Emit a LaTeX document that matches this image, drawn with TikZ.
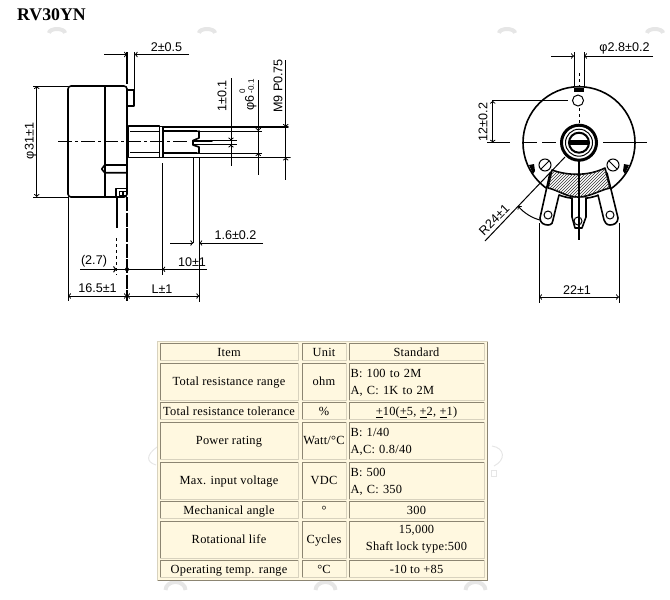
\documentclass[tikz,border=0pt]{standalone}
\usepackage{fontspec}
\setmainfont{Liberation Serif}
\newfontfamily\cadfont{Liberation Sans}
\newfontfamily\cellfont[LetterSpace=2]{Liberation Serif}
\usetikzlibrary{positioning,patterns}
\definecolor{cellcream}{HTML}{FFF8E0}
\definecolor{cellrule}{HTML}{8C8572}
\definecolor{celledge}{HTML}{D8D2BE}
\definecolor{ghost}{HTML}{E6E6E6}
\newcommand{\cellstrut}{\rule[-4pt]{0pt}{16.8pt}}
\tikzset{
	outline/.style={line width=1.6pt,line cap=round,line join=round},
	thinline/.style={line width=1pt},
	dimline/.style={line width=1pt,->},
	dimtext/.style={font=\cadfont\fontsize{12.6}{12.6}\selectfont,inner sep=0pt},
	cellbox/.style={draw=celledge,line width=1pt,fill=cellcream,inner sep=0pt,outer sep=0pt,
		font=\cellfont\fontsize{12.4}{17}\selectfont,align=center,
		execute at begin node=\cellstrut,execute at end node=\cellstrut},
	wordbox/.style={cellbox,align=left,text width=132pt,minimum width=135pt,inner xsep=1.5pt},
	ghostring/.style={ghost,line width=4pt},
}
\begin{document}
\begin{tikzpicture}[x=1pt,y=-1pt]
		\useasboundingbox (0,0) rectangle (670,600);
		\node[font=\bfseries\fontsize{17.8}{18}\selectfont,inner sep=0pt,anchor=west] (title) at (17,15) {RV30YN};
		% pale marks behind the drawing
		\foreach \px in {57,207,507,655}
			\draw[ghostring] (\px-8,33) arc (180:0:8 and -4);
		\foreach \px in {175.5,325.5,475.5}
			\draw[ghostring] (\px-10,590) arc (180:0:10 and -8);
		\draw[ghost,line width=1pt] (157,447) .. controls (146,455) and (146,462) .. (156,465);
		\draw[ghost,line width=1pt] (492,446) .. controls (505,448) and (506,460) .. (494,466);
		\draw[ghost,line width=1pt] (491,470) rectangle (496,476);
		% side view
		\draw[outline,rounded corners=3pt] (68,86) rectangle (127,197);
		\draw[outline] (104.7,86) -- (104.7,197);
		\draw[outline] (127,90) -- (134,90) -- (134,106) -- (127,106);
		\draw[outline] (127,165) -- (104.7,165) -- (101.7,169) -- (104.7,172.7) -- (127,172.7);
		\draw[outline] (128.5,126) -- (159.5,126) -- (159.5,157.5) -- (128.5,157.5) -- cycle;
		\draw[thinline] (130,131) -- (159,131) (130,152) -- (159,152);
		\draw[outline] (159.5,126.5) -- (163,126.5) -- (163,157.5) -- (159.5,157.5);
		\draw[outline] (163,127) -- (288,127);
		\draw[outline] (163,157.5) -- (290,157.5);
		\draw[outline] (163,131) -- (197,131) (163,153) -- (197,153);
		\draw[thinline] (197,131) -- (262,131) (197,153) -- (262,153);
		\draw[outline] (199,131) -- (199,138) -- (193,140.5) -- (193,145) -- (199,147) -- (199,153);
		\draw[outline] (193,141) -- (212,141);
		\draw[thinline] (193,144.5) -- (237,144.5) (212,140.5) -- (237,140.5);
		\draw[thinline,dash pattern=on 14pt off 3pt on 3pt off 3pt] (58,141.7) -- (190,141.7);
		\draw[outline] (115.7,197) -- (115.7,188.5) -- (127,188.5);
		\draw[line width=0.7pt] (119,191) rectangle (122,195) (123,191) rectangle (126,195);
		\draw[line width=2.2pt] (116.7,197) -- (116.7,228);
		\draw[thinline,dashed] (116.7,238) -- (116.7,275);
		% side view dimensions
		\draw[line width=1.4pt] (127,52) -- (127,84);
		\draw[thinline] (134.7,52) -- (134.7,90);
		\coordinate (keyl) at (127,54.5);
		\coordinate (keyr) at (134.7,54.5);
		\draw[dimline] (104,54.5) -- (keyl);
		\draw[dimline] (189,54.5) -- (keyr);
		\node[dimtext] (keytext) at (166.5,47) {2±0.5};
		\draw[thinline] (33,86) -- (68,86) (33,197) -- (68,197);
		\draw[dimline,<->] (36.7,86) -- (36.7,197);
		\node[dimtext,rotate=90] (bodytext) at (30.5,141) {φ31±1};
		\draw[thinline] (231,78) -- (231,166);
		\draw[dimline] (231,131) -- (231,140.5);
		\draw[dimline] (231,153) -- (231,144.5);
		\node[dimtext,rotate=90] (slottext) at (222,96) {1±0.1};
		\draw[thinline] (258.3,80) -- (258.3,175);
		\draw[dimline] (258.3,120) -- (258.3,131);
		\draw[dimline] (258.3,164) -- (258.3,153);
		\node[dimtext,rotate=90,align=left] (shafttext) at (248,95) {φ6\,{\fontsize{8}{8}\selectfont\shortstack[l]{0\\-0.1}}};
		\draw[thinline] (285.7,60) -- (285.7,180);
		\draw[dimline] (285.7,118) -- (285.7,127);
		\draw[dimline] (285.7,167) -- (285.7,157.5);
		\node[dimtext,rotate=90] (threadtext) at (278,86) {M9 P0.75};
		\draw[line width=1.6pt] (162.3,163) -- (162.3,275);
		\draw[thinline] (193.3,157) -- (193.3,243);
		\draw[thinline] (199.3,157) -- (199.3,301.7);
		\draw[dimline] (170,243) -- (193.3,243);
		\draw[dimline] (263,243) -- (199.3,243);
		\node[dimtext] (flattext) at (235.5,235) {1.6±0.2};
		\draw[thinline] (68,197) -- (68,301);
		\draw[line width=1.4pt,dash pattern=on 14pt off 1.5pt] (127,197) -- (127,301);
		\draw[line width=1.3pt] (80,269.3) -- (162.3,269.3);
		\draw[line width=1.3pt,->] (80,269.3) -- (116.7,269.3);
		\draw[dimline] (206.7,269.3) -- (162.3,269.3);
		\fill (127,269.3) circle (2pt);
		\node[dimtext] (lugtext) at (94,261.5) {(2.7)};
		\node[dimtext] (bushtext) at (192,262) {10±1};
		\draw[dimline,<->] (68,296) -- (127,296);
		\draw[dimline,<->] (127,296) -- (199.3,296);
		\node[dimtext] (depthtext) at (97.5,288.5) {16.5±1};
		\node[dimtext] (lengthtext) at (162,289) {L±1};
		% front view
		\draw[outline] (579,142.7) circle (56);
		\draw[thinline,fill=white] (578,100.5) circle (5.5);
		\fill (574,88) rectangle (584,92);
		\draw[line width=3pt] (579,142.7) circle (17.5);
		\draw[line width=1pt] (579,142.7) circle (13.5);
		\draw[line width=2pt] (579,142.7) circle (10);
		\fill (569,140) rectangle (589,144.5);
		\draw[thinline] (545,165) circle (6) (613,165) circle (6);
		\draw[thinline] (541,169) -- (549,161) (609,161) -- (617,169);
		\fill (529,165) -- (534,164) -- (535,171) -- (533,174) -- cycle;
		\fill (629,165) -- (624,164) -- (623,171) -- (625,174) -- cycle;
		\draw[outline,fill=white] (550,173) -- (540,218) .. controls (540,223) and (544,225) .. (548,225) .. controls (552,225) and (553,222) .. (553,220) -- (559,195);
		\draw[outline,fill=white] (607,173) -- (618,218) .. controls (618,223) and (614,225) .. (610,225) .. controls (606,225) and (605,222) .. (604,220) -- (598,195);
		\draw[outline,fill=white] (572,198) -- (572,217) -- (575,228) -- (582,228) -- (586,217) -- (586,198);
		\draw[thinline] (548,215) circle (4) (610,215) circle (4) (578,221) circle (4);
		\draw[outline,fill=white] (552,170) .. controls (568,176) and (589,176) .. (605,168) -- (610,188) .. controls (600,190) and (590,197) .. (578,197) .. controls (566,197) and (558,190) .. (548,188) -- cycle;
		\fill[pattern=north east lines,pattern color=black!80] (552,170) .. controls (568,176) and (589,176) .. (605,168) -- (610,188) .. controls (600,190) and (590,197) .. (578,197) .. controls (566,197) and (558,190) .. (548,188) -- cycle;
		% front view dimensions
		\draw[thinline,dashed] (579,73) -- (579,87);
		\draw[thinline,dashed] (579,108) -- (579,125);
		\draw[line width=1.4pt] (579,161) -- (579,240);
		\draw[thinline] (574,52) -- (574,87) (584,52) -- (584,87);
		\draw[dimline] (551,56) -- (574,56);
		\draw[dimline] (653,56) -- (584,56);
		\node[dimtext] (holetext) at (624.5,48) {φ2.8±0.2};
		\draw[thinline] (492,100.7) -- (568,100.7);
		\draw[thinline] (487,142.7) -- (510,142.7);
		\draw[thinline,dash pattern=on 14pt off 5pt] (523,142.7) -- (560,142.7);
		\draw[thinline] (603,142.7) -- (647,142.7);
		\draw[dimline,<->] (492.7,100.7) -- (492.7,142.7);
		\node[dimtext,rotate=90] (pitchtext) at (483,122) {12±0.2};
		\draw[thinline] (565,157) -- (485,241);
		\draw[thinline,->] (540,220) .. controls (532,218) and (524,213) .. (518,206);
		\node[dimtext,rotate=45] (radiustext) at (494,220) {R24±1};
		\draw[thinline] (539,223) -- (539,303) (619,223) -- (619,303);
		\draw[dimline,<->] (539,297) -- (619,297);
		\node[dimtext] (spantext) at (577,290) {22±1};
		% table
		\fill[cellcream] (157.5,341.5) rectangle (487.5,580.5);
		\draw[celledge,line width=1pt] (157.5,580.5) -- (157.5,341.5) -- (487.5,341.5);
		\draw[cellrule,line width=1pt] (157.5,580.5) -- (487.5,580.5) -- (487.5,341.5);
		\node[cellbox,minimum width=138pt,minimum height=16pt] (itemhead) at (229,352) {Item};
		\node[cellbox,minimum width=44pt,minimum height=16pt] (unithead) at (324,352) {Unit};
		\node[cellbox,minimum width=135pt,minimum height=16pt] (stdhead) at (416.5,352) {Standard};
		\node[cellbox,minimum width=138pt,minimum height=37pt] (item1) at (229,381.5) {Total resistance range};
		\node[cellbox,minimum width=44pt,minimum height=37pt] (unit1) at (324,381.5) {ohm};
		\node[wordbox,minimum height=37pt] (std1) at (416.5,381.5) {B: 100 to 2M\\A, C: 1K to 2M};
		\node[cellbox,minimum width=138pt,minimum height=16pt] (item2) at (229,411) {Total resistance tolerance};
		\node[cellbox,minimum width=44pt,minimum height=16pt] (unit2) at (324,411) {\%};
		\node[cellbox,minimum width=135pt,minimum height=16pt] (std2) at (416.5,411) {\underline{+}10(\underline{+}5, \underline{+}2, \underline{+}1)};
		\node[cellbox,minimum width=138pt,minimum height=37pt] (item3) at (229,440.5) {Power rating};
		\node[cellbox,minimum width=44pt,minimum height=37pt] (unit3) at (324,440.5) {Watt/°C};
		\node[wordbox,minimum height=37pt] (std3) at (416.5,440.5) {B: 1/40\\A,C: 0.8/40};
		\node[cellbox,minimum width=138pt,minimum height=37pt] (item4) at (229,480.5) {Max. input voltage};
		\node[cellbox,minimum width=44pt,minimum height=37pt] (unit4) at (324,480.5) {VDC};
		\node[wordbox,minimum height=37pt] (std4) at (416.5,480.5) {B: 500\\A, C: 350};
		\node[cellbox,minimum width=138pt,minimum height=16pt] (item5) at (229,510) {Mechanical angle};
		\node[cellbox,minimum width=44pt,minimum height=16pt] (unit5) at (324,510) {°};
		\node[cellbox,minimum width=135pt,minimum height=16pt] (std5) at (416.5,510) {300};
		\node[cellbox,minimum width=138pt,minimum height=37pt] (item6) at (229,539.5) {Rotational life};
		\node[cellbox,minimum width=44pt,minimum height=37pt] (unit6) at (324,539.5) {Cycles};
		\node[cellbox,minimum width=135pt,minimum height=37pt] (std6) at (416.5,539.5) {15,000\\Shaft lock type:500};
		\node[cellbox,minimum width=138pt,minimum height=16pt] (item7) at (229,569) {Operating temp. range};
		\node[cellbox,minimum width=44pt,minimum height=16pt] (unit7) at (324,569) {°C};
		\node[cellbox,minimum width=135pt,minimum height=16pt] (std7) at (416.5,569) {-10 to +85};
		\foreach \c in {itemhead,unithead,stdhead,item1,unit1,std1,item2,unit2,std2,item3,unit3,std3,item4,unit4,std4,item5,unit5,std5,item6,unit6,std6,item7,unit7,std7}
			\draw[cellrule,line width=1pt] (\c.south west) -- (\c.north west) -- (\c.north east);
		\end{tikzpicture}
\end{document}
